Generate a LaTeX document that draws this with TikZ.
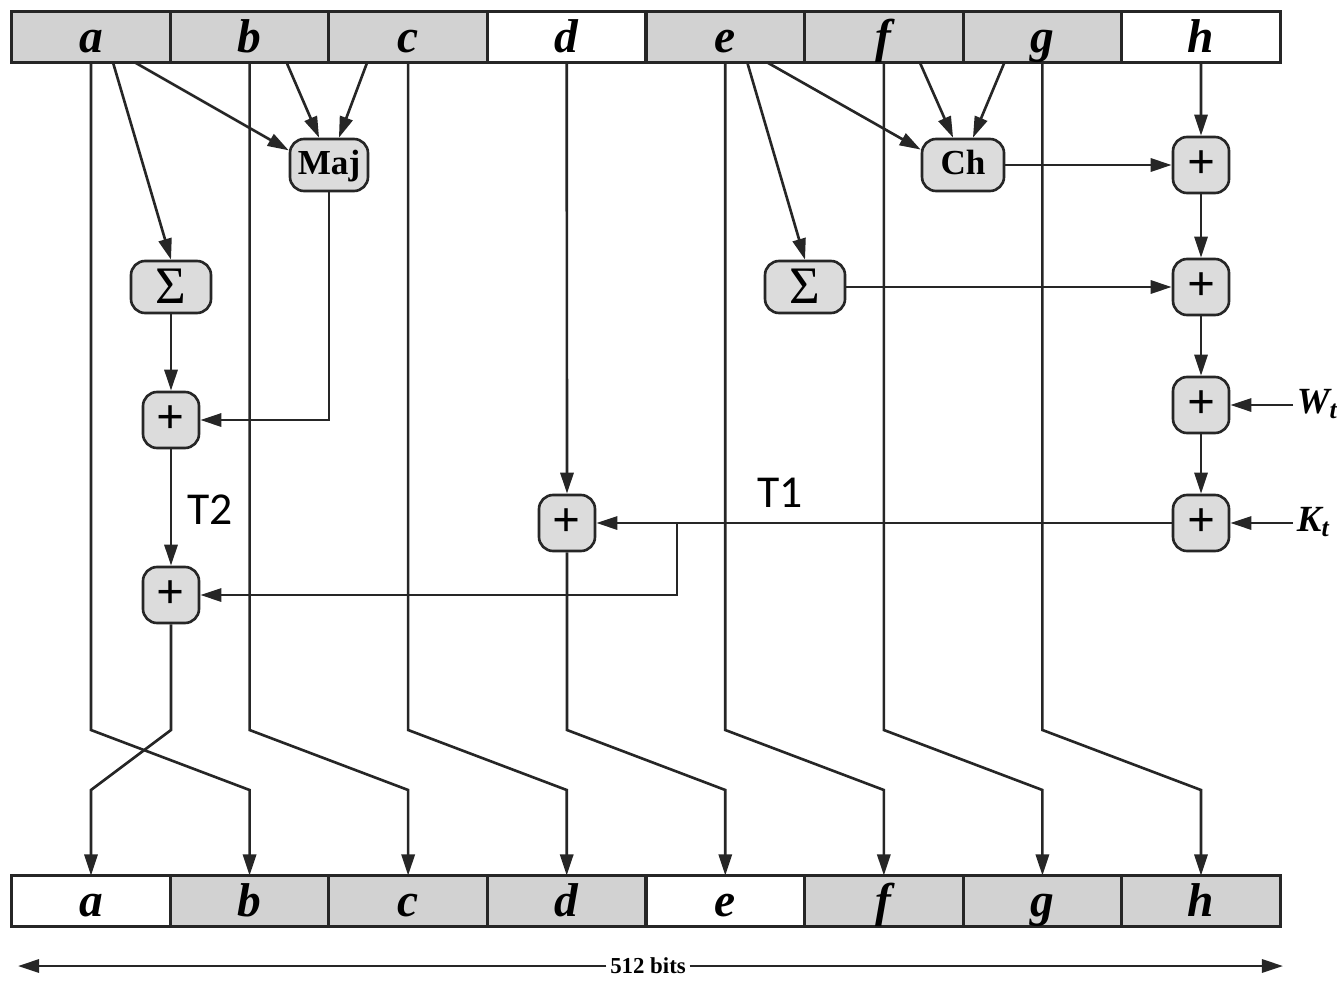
\documentclass[tikz,border=0pt]{standalone}
\usepackage{fontspec}
\setmainfont{Liberation Serif}
\newfontfamily\labelfont{Carlito}
\usetikzlibrary{arrows.meta,positioning,calc}
\definecolor{regfill}{HTML}{D2D2D2}
\definecolor{opfill}{HTML}{DCDCDC}
\definecolor{wirec}{HTML}{262626}
\tikzset{
  reg/.style={rectangle, draw=wirec, line width=1.8pt, fill=#1, outer sep=0pt, inner sep=0pt,
              minimum width=3.172cm, minimum height=1.02cm, text height=20pt, text depth=2pt,
              font=\fontsize{27}{30}\selectfont\bfseries\itshape},
  opbox/.style={rectangle, rounded corners=8pt, draw=wirec, line width=1.5pt, fill=opfill,
                minimum width=#1, minimum height=1.04cm, inner sep=0pt,
                text height=14pt, text depth=3pt, font=\fontsize{20}{24}\selectfont\bfseries},
  addbox/.style={rectangle, rounded corners=8pt, draw=wirec, line width=1.5pt, fill=opfill,
                 minimum size=1.12cm, inner sep=0pt, font=\fontsize{28}{28}\selectfont\bfseries},
  inlabel/.style={inner sep=2pt, anchor=west, font=\fontsize{21}{24}\selectfont\bfseries\itshape},
  tlabel/.style={inner sep=0pt, font=\labelfont\fontsize{26}{30}\selectfont},
  arr/.style={-{Triangle[length=12pt,width=7.5pt]}, line width=1.5pt, draw=wirec},
}
\newcommand{\sig}{{\fontsize{30}{30}\selectfont\mdseries Σ}}

\begin{document}
\begin{tikzpicture}[x=0.02cm, y=-0.02cm]
    \useasboundingbox (0,0) rectangle (1337,980);
    \node[reg=regfill] (ta) at (91,37) {a};
    \node[reg=regfill, right=0pt of ta] (tb) {b};
    \node[reg=regfill, right=0pt of tb] (tc) {c};
    \node[reg=white, right=0pt of tc] (td) {d};
    \node[reg=regfill, right=0pt of td] (te) {e};
    \node[reg=regfill, right=0pt of te] (tf) {f};
    \node[reg=regfill, right=0pt of tf] (tg) {g};
    \node[reg=white, right=0pt of tg] (th) {h};

    \node[reg=white] (ba) at (91,901) {a};
    \node[reg=regfill, right=0pt of ba] (bb) {b};
    \node[reg=regfill, right=0pt of bb] (bc) {c};
    \node[reg=regfill, right=0pt of bc] (bd) {d};
    \node[reg=white, right=0pt of bd] (be) {e};
    \node[reg=regfill, right=0pt of be] (bf) {f};
    \node[reg=regfill, right=0pt of bf] (bg) {g};
    \node[reg=regfill, right=0pt of bg] (bh) {h};

    \node[opbox=1.56cm] (maj) at (329,165) {Maj};
    \node[opbox=1.64cm] (ch) at (963,165) {Ch};
    \node[opbox=1.6cm, text height=19pt, text depth=0pt] (siga) at (171,287) {\sig};
    \node[opbox=1.6cm, text height=19pt, text depth=0pt] (sige) at (805,287) {\sig};

    \node[addbox] (pa1) at (171,420) {+};
    \node[addbox] (pa2) at (171,595) {+};
    \node[addbox] (pd) at (567,523) {+};
    \node[addbox] (ph1) at (1201,165) {+};
    \node[addbox] (ph2) at (1201,287) {+};
    \node[addbox] (ph3) at (1201,405) {+};
    \node[addbox] (ph4) at (1201,523) {+};

    \node[inlabel] (wt) at (1293,404) {W\textsubscript{t}};
    \node[inlabel] (kt) at (1293,522) {K\textsubscript{t}};
    \node[tlabel] (t2) at (210,510) {T2};
    \node[tlabel] (t1) at (780,493) {T1};
    \node[inner sep=2pt, font=\fontsize{13}{15}\selectfont\bfseries] (bits) at (648,966) {512 bits};

    \coordinate (kneeA) at (0,730);
    \coordinate (kneeB) at (0,790);
    \coordinate (tsplit) at (677,523);
    \coordinate (bitsl) at (18,966);
    \coordinate (bitsr) at (1283,966);

    \draw[arr] ($(ta.south)+(22,0)$) -- (siga.north);
    \draw[arr] ($(ta.south)+(44,0)$) -- (maj.160);
    \draw[arr] ($(tb.south)+(37,0)$) -- (maj.110);
    \draw[arr] ($(tc.south)+(-41,0)$) -- (maj.70);
    \draw[arr] ($(te.south)+(22,0)$) -- (sige.north);
    \draw[arr] ($(te.south)+(42,0)$) -- (ch.160);
    \draw[arr] ($(tf.south)+(36,0)$) -- (ch.110);
    \draw[arr] ($(tg.south)+(-38,0)$) -- (ch.70);

    \draw[arr] (th.south) -- (ph1.north);
    \draw[arr] (ch.east) -- (ph1.west);
    \draw[arr] (ph1) -- (ph2);
    \draw[arr] (sige.east) -- (ph2.west);
    \draw[arr] (ph2) -- (ph3);
    \draw[arr] (wt.west |- ph3.east) -- (ph3.east);
    \draw[arr] (ph3) -- (ph4);
    \draw[arr] (kt.west |- ph4.east) -- (ph4.east);
    \draw[arr] (ph4.west) -- (pd.east);
    \draw[arr] (tsplit) |- (pa2.east);
    \draw[arr] (td.south) -- (pd.north);

    \draw[arr] (siga) -- (pa1);
    \draw[arr] (maj.south) |- (pa1.east);
    \draw[arr] (pa1) -- (pa2);

    \draw[arr] (pa2.south) -- (pa2.south |- kneeA) -- (ba.north |- kneeB) -- (ba.north);
    \draw[arr] (ta.south) -- (ta.south |- kneeA) -- (bb.north |- kneeB) -- (bb.north);
    \draw[arr] (tb.south) -- (tb.south |- kneeA) -- (bc.north |- kneeB) -- (bc.north);
    \draw[arr] (tc.south) -- (tc.south |- kneeA) -- (bd.north |- kneeB) -- (bd.north);
    \draw[arr] (pd.south) -- (pd.south |- kneeA) -- (be.north |- kneeB) -- (be.north);
    \draw[arr] (te.south) -- (te.south |- kneeA) -- (bf.north |- kneeB) -- (bf.north);
    \draw[arr] (tf.south) -- (tf.south |- kneeA) -- (bg.north |- kneeB) -- (bg.north);
    \draw[arr] (tg.south) -- (tg.south |- kneeA) -- (bh.north |- kneeB) -- (bh.north);

    \draw[arr] (bits.west) -- (bitsl);
    \draw[arr] (bits.east) -- (bitsr);
  \end{tikzpicture}
\end{document}
